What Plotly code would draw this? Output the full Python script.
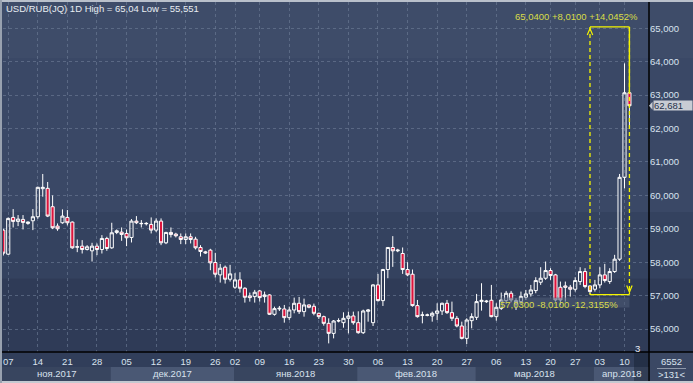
import plotly.graph_objects as go

# ---------------- data (daily candles) ----------------
open_ = [58.96, 58.24, 59.34, 59.22, 59.28, 59.16, 59.24, 59.36, 60.20, 60.21,
         59.66, 59.08, 59.18, 59.34, 59.20, 58.45, 58.48, 58.38, 58.34, 58.48,
         58.38, 58.71, 58.43, 58.89, 58.90, 58.86, 58.74, 59.23, 59.15, 59.15,
         59.13, 58.96, 59.23, 58.58, 58.89, 58.84, 58.76, 58.68, 58.76, 58.69,
         58.44, 58.31, 58.36, 57.99, 57.62, 57.85, 57.49, 57.25, 57.47, 57.22,
         56.99, 56.97, 57.14, 56.97, 57.02, 56.44, 56.60, 56.60, 56.34, 56.57,
         56.77, 56.52, 56.72, 56.68, 56.47, 56.37, 56.17, 55.87, 56.24, 56.19,
         56.32, 56.39, 56.19, 55.89, 56.53, 56.19, 57.32, 56.85, 57.78, 58.44,
         58.34, 58.26, 57.78, 57.64, 56.70, 56.41, 56.41, 56.39, 56.47, 56.54,
         56.77, 56.49, 56.32, 56.09, 55.72, 56.25, 56.35, 56.82, 56.84, 56.86,
         56.37, 56.62, 56.85, 57.07, 56.75, 56.82, 56.95, 57.05, 57.15, 57.40,
         57.52, 57.75, 57.62, 57.25, 57.29, 57.25, 57.19, 57.42, 57.72, 57.29,
         57.19, 57.32, 57.62, 57.42, 57.72, 58.09, 60.54, 63.07]
high = [59.00, 59.34, 59.59, 59.41, 59.41, 59.22, 59.59, 60.26, 60.64, 60.40,
        60.00, 59.16, 59.58, 59.56, 59.22, 58.68, 58.66, 58.51, 58.58, 58.56,
        58.81, 58.76, 59.18, 58.98, 59.04, 58.98, 59.29, 59.38, 59.26, 59.20,
        59.34, 59.31, 59.31, 58.91, 59.04, 58.88, 58.86, 58.86, 58.86, 58.76,
        58.51, 58.34, 58.40, 58.28, 57.95, 57.90, 57.92, 57.67, 57.70, 57.25,
        57.09, 57.17, 57.17, 57.12, 57.04, 56.67, 56.69, 56.72, 56.67, 56.94,
        56.96, 56.91, 56.74, 56.76, 56.49, 56.40, 56.32, 56.27, 56.32, 56.50,
        56.52, 56.52, 56.53, 56.58, 56.60, 57.34, 57.65, 57.80, 58.44, 58.78,
        58.40, 58.44, 58.00, 57.78, 56.87, 56.52, 56.46, 56.52, 56.77, 56.79,
        56.87, 56.82, 56.39, 56.22, 56.32, 56.47, 57.05, 57.37, 56.87, 57.32,
        56.77, 57.09, 57.14, 57.14, 56.92, 57.12, 57.17, 57.32, 57.55, 57.85,
        58.02, 57.82, 57.65, 57.42, 57.42, 57.32, 57.55, 57.85, 57.82, 57.30,
        57.47, 57.85, 57.95, 57.82, 58.22, 60.64, 63.95, 65.04]
low = [58.20, 58.22, 59.04, 59.08, 58.98, 59.12, 58.96, 59.30, 59.96, 59.35,
       58.99, 58.94, 59.15, 59.10, 58.40, 58.30, 58.26, 58.35, 58.02, 58.21,
       58.26, 58.34, 58.40, 58.84, 58.64, 58.48, 58.59, 59.14, 59.04, 59.10,
       58.86, 58.90, 58.51, 58.54, 58.74, 58.74, 58.54, 58.54, 58.56, 58.38,
       58.17, 58.25, 57.76, 57.54, 57.39, 57.36, 57.42, 57.20, 57.09, 56.79,
       56.82, 56.79, 56.82, 56.79, 56.42, 56.40, 56.54, 56.19, 56.27, 56.47,
       56.45, 56.37, 56.62, 56.41, 56.30, 56.10, 55.57, 55.72, 56.20, 56.04,
       55.87, 56.13, 55.86, 55.85, 56.22, 56.09, 56.82, 56.69, 57.52, 57.86,
       58.30, 57.65, 57.58, 56.67, 56.34, 56.17, 56.38, 56.22, 56.27, 56.42,
       56.45, 56.24, 56.05, 55.69, 55.551, 56.02, 56.27, 56.55, 56.78, 56.35,
       56.25, 56.57, 56.75, 56.80, 56.57, 56.72, 56.87, 56.97, 57.07, 57.32,
       57.47, 57.47, 56.82, 56.72, 56.82, 56.97, 57.12, 57.32, 57.22, 57.03,
       57.12, 57.22, 57.39, 57.35, 57.68, 58.04, 60.21, 62.05]
close = [58.27, 59.31, 59.22, 59.29, 59.19, 59.20, 59.36, 60.24, 60.24, 59.38,
         59.03, 59.00, 59.38, 59.18, 58.43, 58.46, 58.38, 58.46, 58.48, 58.38,
         58.71, 58.41, 58.88, 58.94, 58.83, 58.73, 59.23, 59.18, 59.16, 59.16,
         58.96, 59.23, 58.58, 58.89, 58.83, 58.79, 58.68, 58.76, 58.68, 58.43,
         58.32, 58.28, 57.98, 57.64, 57.82, 57.49, 57.65, 57.47, 57.22, 56.95,
         56.94, 57.10, 56.94, 57.02, 56.44, 56.61, 56.62, 56.34, 56.57, 56.77,
         56.52, 56.72, 56.65, 56.47, 56.37, 56.17, 55.87, 56.24, 56.25, 56.32,
         56.39, 56.19, 55.89, 56.54, 56.57, 57.32, 56.85, 57.78, 58.44, 58.34,
         58.36, 57.78, 57.62, 56.70, 56.37, 56.42, 56.42, 56.47, 56.54, 56.77,
         56.49, 56.32, 56.09, 55.72, 56.27, 56.37, 56.82, 56.86, 56.82, 56.37,
         56.65, 56.87, 57.07, 56.87, 56.85, 56.97, 57.05, 57.17, 57.45, 57.52,
         57.75, 57.60, 56.87, 56.87, 57.25, 57.19, 57.45, 57.72, 57.27, 57.12,
         57.32, 57.62, 57.45, 57.72, 58.09, 60.54, 63.07, 62.681]

tick_idx = [1, 7, 13, 19, 25, 31, 37, 43, 47, 52, 58, 64, 70, 76, 82, 88, 94,
            100, 106, 111, 116, 121, 126]
tick_lbl = ["07", "14", "21", "28", "05", "12", "19", "26", "02", "09", "16",
            "23", "30", "06", "13", "20", "27", "06", "13", "20", "27", "03", "10"]
month_start = [0, 22, 47, 72, 96, 120]
month_lbl = ["ноя.2017", "дек.2017", "янв.2018", "фев.2018", "мар.2018", "апр.2018"]
price_ticks = [56, 57, 58, 59, 60, 61, 62, 63, 64, 65]

ruler_from, ruler_to = 119, 127          # bar indices of the measuring tool
ruler_low, ruler_high = 57.03, 65.04

# ---------------- layout geometry ----------------
W, H = 693, 383
ML, MR, MT, MB = 3, 44, 2, 31
PW, PH = W - ML - MR, H - MT - MB
X_RANGE = [-0.06, 130.97]
Y_RANGE = [55.312, 65.787]


def px(x):
    return (x - ML) / PW


def py(y):
    return (H - MB - y) / PH


def rus(v, d):
    return f"{v:.{d}f}".replace(".", ",")


FONT = "Liberation Sans, Arial, sans-serif"
LBL = "#d8e2ee"
YEL_TXT = "#d9dc48"
YEL = "#f5f500"
n = len(close)

fig = go.Figure()
fig.add_trace(go.Candlestick(
    x=list(range(n)), open=open_, high=high, low=low, close=close,
    increasing=dict(line=dict(color="#ffffff", width=1), fillcolor="rgba(0,0,0,0)"),
    decreasing=dict(line=dict(color="#ffffff", width=1), fillcolor="#dc143c"),
    hoverinfo="skip", showlegend=False,
))

shapes = []
# background bands (plot + price axis)
bands = [(1.006, 0.84, "#3e4c69"), (0.84, 0.40, "#3a4866"),
         (0.40, 0.21, "#34425f"), (0.21, 0.0, "#2f3b57")]
for y1, y0, c in bands:
    shapes.append(dict(type="rect", xref="paper", yref="paper", x0=px(0), x1=px(W),
                       y0=y0, y1=y1, fillcolor=c, line_width=0, layer="below"))
# date axis area
shapes.append(dict(type="rect", xref="paper", yref="paper", x0=px(0), x1=1,
                   y0=py(381), y1=0, fillcolor="#313e5a", line_width=0, layer="below"))
shapes.append(dict(type="rect", xref="paper", yref="paper", x0=px(0), x1=1,
                   y0=py(381), y1=py(367), fillcolor="#38455f", line_width=0, layer="below"))
for k in range(1, len(month_start), 2):
    x1 = month_start[k + 1] - 0.2 if k + 1 < len(month_start) else X_RANGE[1]
    shapes.append(dict(type="rect", xref="x", yref="paper", x0=month_start[k] - 0.2, x1=x1,
                       y0=py(381), y1=py(367), fillcolor="#4a5874", line_width=0, layer="below"))
shapes.append(dict(type="rect", xref="paper", yref="paper", x0=1, x1=px(W),
                   y0=py(381), y1=0, fillcolor="#3b4864", line_width=0, layer="below"))
shapes.append(dict(type="rect", xref="paper", yref="paper", x0=px(634), x1=px(648),
                   y0=py(381), y1=0, fillcolor="rgba(22,30,48,0.45)", line_width=0))
# borders
shapes.append(dict(type="rect", xref="paper", yref="paper", x0=px(0), x1=px(W),
                   y0=py(2), y1=py(0), fillcolor="#b9c0cb", line_width=0))
shapes.append(dict(type="rect", xref="paper", yref="paper", x0=px(0), x1=px(W),
                   y0=py(383), y1=py(381), fillcolor="#c4c9d1", line_width=0))
shapes.append(dict(type="rect", xref="paper", yref="paper", x0=px(0), x1=px(2),
                   y0=py(383), y1=py(0), fillcolor="#98a1af", line_width=0))
# black frame lines
shapes.append(dict(type="line", xref="paper", yref="paper", x0=px(2), x1=px(W),
                   y0=0, y1=0, line=dict(color="#000000", width=1.5)))
shapes.append(dict(type="line", xref="paper", yref="paper", x0=1, x1=1,
                   y0=py(381), y1=py(2), line=dict(color="#000000", width=1.5)))
shapes.append(dict(type="line", xref="paper", yref="paper", x0=px(657), x1=px(686),
                   y0=py(368.5), y1=py(368.5), line=dict(color="#8c96a8", width=1)))

# measuring tool (ruler)
shapes += [
    dict(type="line", xref="x", yref="y", x0=ruler_from, x1=ruler_to, y0=ruler_high, y1=ruler_high,
         line=dict(color=YEL, width=1.3)),
    dict(type="line", xref="x", yref="y", x0=ruler_from, x1=ruler_to, y0=ruler_low, y1=ruler_low,
         line=dict(color=YEL, width=1.3)),
    dict(type="line", xref="x", yref="y", x0=ruler_from, x1=ruler_from, y0=ruler_high, y1=ruler_low,
         line=dict(color=YEL, width=1.3, dash="4px,3px")),
    dict(type="line", xref="x", yref="y", x0=ruler_to, x1=ruler_to, y0=ruler_high, y1=ruler_low,
         line=dict(color=YEL, width=1.3, dash="4px,3px")),
    dict(type="line", xref="x", yref="y", x0=ruler_to, x1=ruler_to, y0=ruler_high, y1=open_[-1],
         line=dict(color=YEL, width=1.3)),
    dict(type="path", xref="x", yref="y",
         path=f"M {ruler_from - 0.55},{ruler_high - 0.24} L {ruler_from},{ruler_high - 0.05} "
              f"L {ruler_from + 0.55},{ruler_high - 0.24}",
         line=dict(color=YEL, width=1.2)),
    dict(type="path", xref="x", yref="y",
         path=f"M {ruler_to - 0.55},{ruler_low + 0.27} L {ruler_to},{ruler_low + 0.07} "
              f"L {ruler_to + 0.55},{ruler_low + 0.27}",
         line=dict(color=YEL, width=1.2)),
    dict(type="rect", xref="x", yref="y", xsizemode="pixel", xanchor=ruler_to, x0=-128, x1=0,
         ysizemode="pixel", yanchor=ruler_low, y0=-3, y1=-13,
         fillcolor="rgba(78,92,118,0.55)", line_width=0),
]
# last price marker arrow
tri = 4 * (Y_RANGE[1] - Y_RANGE[0]) / PH
shapes.append(dict(type="path", xref="paper", yref="y",
                   path=f"M 1,{close[-1]} L {px(652.5)},{close[-1] + tri} L {px(652.5)},{close[-1] - tri} Z",
                   fillcolor="#c8ccd4", line_width=0))

diff = ruler_high - ruler_low
annotations = [
    dict(xref="paper", yref="paper", x=px(4), y=py(8.7), xanchor="left", yanchor="middle",
         text=f"USD/RUB(JQ) 1D High = {rus(max(high), 3).rstrip('0')} Low = {rus(min(low), 3).rstrip('0')}",
         showarrow=False, font=dict(family=FONT, size=9.5, color="#e8ecf2")),
    dict(xref="x", yref="y", x=ruler_to, y=ruler_high, xanchor="right", yanchor="bottom",
         xshift=11, yshift=3, showarrow=False,
         text=f"{rus(ruler_high, 4)} +{rus(diff, 4)} +{rus(diff / ruler_low * 100, 4)}%",
         font=dict(family=FONT, size=9.5, color=YEL_TXT)),
    dict(xref="x", yref="y", x=ruler_to, y=ruler_low, xanchor="right", yanchor="top",
         xshift=-9, yshift=-2, showarrow=False,
         text=f"{rus(ruler_low, 4)} -{rus(diff, 4)} -{rus(diff / ruler_high * 100, 4)}%",
         font=dict(family=FONT, size=9.5, color=YEL_TXT)),
    dict(xref="paper", yref="y", x=px(652.5), y=close[-1], xanchor="left", yanchor="middle",
         text=rus(close[-1], 3), showarrow=False, bgcolor="#c8ccd4", width=38, height=9,
         align="left", borderpad=0, font=dict(family=FONT, size=9.5, color="#26324a")),
    dict(xref="paper", yref="paper", x=px(637.5), y=py(348), xanchor="center", yanchor="middle",
         text="3", showarrow=False, font=dict(family=FONT, size=9.5, color="#e8ecf2")),
    dict(xref="paper", yref="paper", x=px(671), y=py(362), xanchor="center", yanchor="middle",
         text="6552", showarrow=False, font=dict(family=FONT, size=9.5, color=LBL)),
    dict(xref="paper", yref="paper", x=px(671), y=py(375), xanchor="center", yanchor="middle",
         text="&gt;131&lt;", showarrow=False, font=dict(family=FONT, size=9.5, color=LBL)),
]
for k, name in enumerate(month_lbl):
    a = max(month_start[k] - 0.2, X_RANGE[0])
    b = month_start[k + 1] - 0.2 if k + 1 < len(month_start) else X_RANGE[1]
    annotations.append(dict(xref="x", yref="paper", x=(a + b) / 2, y=py(373), text=name,
                            showarrow=False, xanchor="center", yanchor="middle",
                            font=dict(family=FONT, size=9.5, color=LBL)))

fig.update_layout(
    width=W, height=H, margin=dict(l=ML, r=MR, t=MT, b=MB, pad=0),
    paper_bgcolor="#3a4764", plot_bgcolor="rgba(0,0,0,0)",
    separators=", ", showlegend=False, boxgap=0.2, boxgroupgap=0.2,
    shapes=shapes, annotations=annotations,
    font=dict(family=FONT, size=9.5, color=LBL),
    xaxis=dict(range=X_RANGE, rangeslider=dict(visible=False), tickvals=tick_idx, ticktext=tick_lbl,
               showgrid=True, gridcolor="rgba(112,126,152,0.6)", griddash="3px,3px", gridwidth=1,
               zeroline=False, showline=False, ticks="", ticklabelstandoff=2,
               tickfont=dict(family=FONT, size=9.5, color=LBL)),
    yaxis=dict(range=Y_RANGE, side="right", tickvals=price_ticks, tickformat=".3f",
               showgrid=True, gridcolor="rgba(112,126,152,0.6)", griddash="3px,3px", gridwidth=1,
               zeroline=False, showline=False, ticks="", tickfont=dict(family=FONT, size=9.5, color=LBL)),
)

fig.write_html("out.html", config={"displayModeBar": False},
               post_script="document.body.style.margin='0px';document.body.style.overflow='hidden';")
